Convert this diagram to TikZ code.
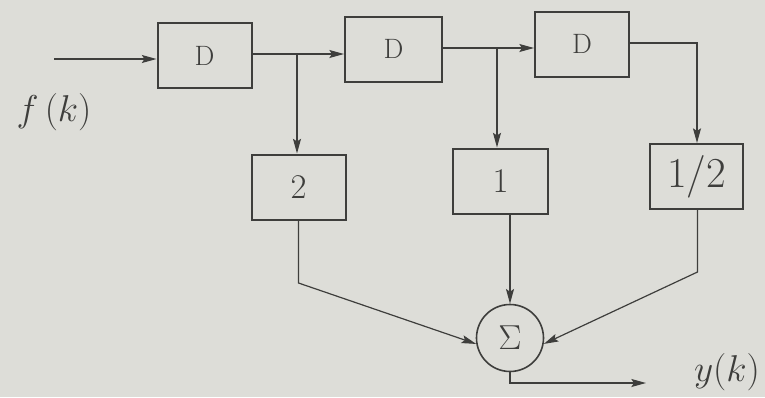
\RequirePackage{fix-cm}
\documentclass[tikz,border=0pt]{standalone}
\usetikzlibrary{arrows.meta}
\definecolor{paper}{RGB}{221,221,216}
\definecolor{ink}{RGB}{62,62,60}
\begin{document}
\begin{tikzpicture}[x=0.75pt,y=-0.75pt,
  line width=0.9pt, draw=ink, text=ink,
  blk/.style={draw=ink, line width=1.5pt, minimum width=94*0.75pt, minimum height=65*0.75pt, inner sep=0pt},
  dfont/.style={font=\fontsize{21}{23}\selectfont},
  arr/.style={-{Stealth[length=11pt,width=6pt,inset=2pt]}, draw=ink}]
\fill[paper] (0,0) rectangle (765,397);
\useasboundingbox (0,0) rectangle (765,397);
\node[blk, dfont] (d1) at (204.5,55.5) {D};
\node[blk, minimum width=97*0.75pt, dfont] (d2) at (393.5,49) {D};
\node[blk, dfont] (d3) at (582,44) {D};
\node[blk, font=\fontsize{26}{28}\selectfont] (b2) at (298.5,187) {2};
\node[blk, minimum width=95*0.75pt, font=\fontsize{26}{28}\selectfont] (b1) at (500.5,181) {1};
\node[blk, minimum width=93*0.75pt, font=\fontsize{32}{34}\selectfont] (bh) at (696.5,176.5) {1/2};
\node[circle, draw=ink, line width=1.2pt, minimum size=67*0.75pt, inner sep=0pt, font=\fontsize{26}{28}\selectfont] (sum) at (510,338) {$\Sigma$};
\node[font=\fontsize{28}{30}\selectfont] (fk) at (54,112) {$f\,(k)$};
\node[font=\fontsize{28}{30}\selectfont] (yk) at (727,372) {$y(k)$};
\coordinate (in) at (54,59);
\coordinate (j1) at (297,54);
\coordinate (j2) at (497,48);
\coordinate (c3) at (697,43);
\coordinate (k2) at (298.5,283);
\coordinate (kh) at (697.5,272);
\coordinate (o1) at (510,383);
\coordinate (o2) at (646,383);
\draw[arr] (in) -- (d1.west |- in);
\draw[arr] (d1.east |- j1) -- (d2.west |- j1);
\draw[arr] (j1) -- (b2.north -| j1);
\draw[arr] (d2.east |- j2) -- (d3.west |- j2);
\draw[arr] (j2) -- (b1.north -| j2);
\draw[arr] (d3.east |- c3) -- (c3) -- (bh.north -| c3);
\draw[arr] (b2.south) -- (k2) -- (sum.190);
\draw[arr] (b1.south -| sum) -- (sum.north);
\draw[arr] (bh.south -| kh) -- (kh) -- (sum.-10);
\draw[arr] (sum.south) -- (o1) -- (o2);
\end{tikzpicture}
\end{document}
